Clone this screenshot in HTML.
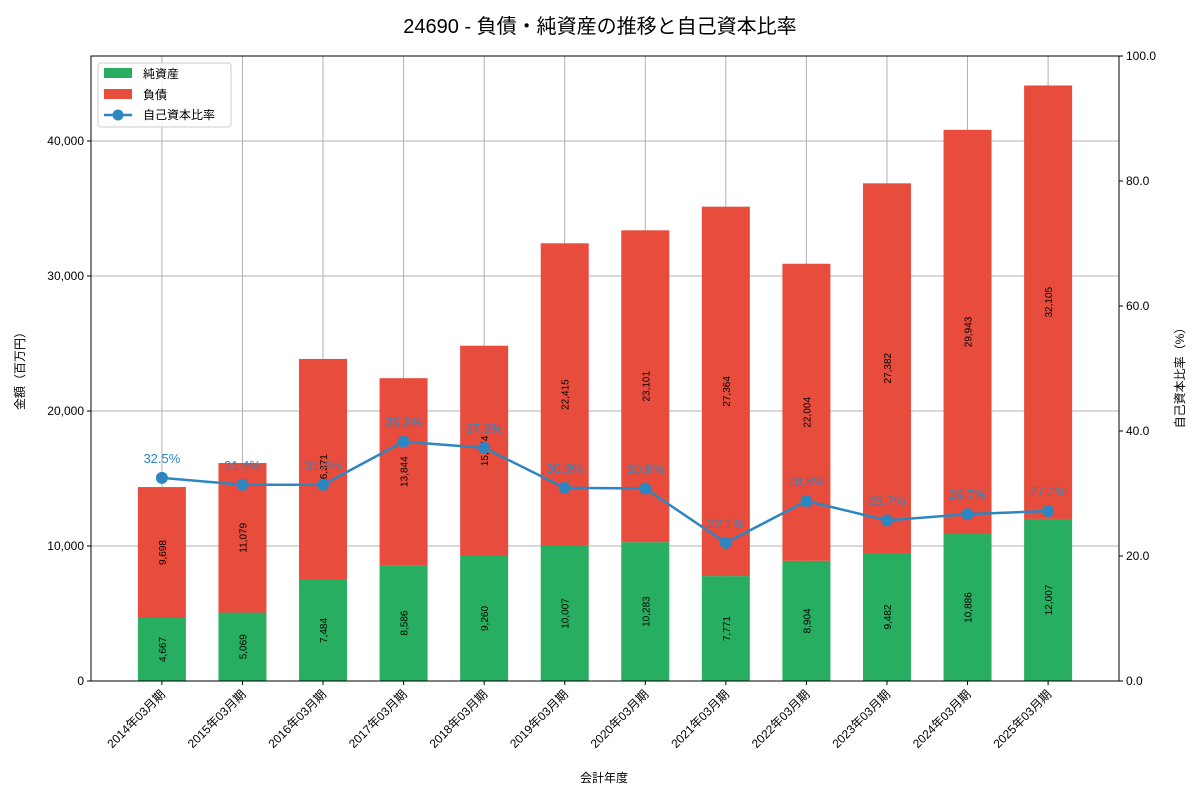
<!DOCTYPE html>
<html><head><meta charset="utf-8"><style>
body{margin:0;background:#fff;}
svg text{font-family:"Liberation Sans","Noto Sans CJK JP",sans-serif;}
</style></head><body>
<svg id="chart" width="1200" height="800" xmlns="http://www.w3.org/2000/svg">
<text x="600" y="33" text-anchor="middle" font-size="20" fill="#000">24690 - 負債・純資産の推移と自己資本比率</text>
<g id="grid"></g><g id="bars"></g><g id="line"></g><g id="axes"></g>
</svg>
<script>
const categories=["2014年03月期","2015年03月期","2016年03月期","2017年03月期","2018年03月期","2019年03月期","2020年03月期","2021年03月期","2022年03月期","2023年03月期","2024年03月期","2025年03月期"];
const netAssets=[4667,5069,7484,8586,9260,10007,10283,7771,8904,9482,10886,12007];
const liabilities=[9698,11079,16371,13844,15574,22415,23101,27364,22004,27382,29943,32105];
const ratio=[32.5,31.4,31.4,38.3,37.3,30.9,30.8,22.1,28.8,25.7,26.7,27.2];
const leftTicks=[0,10000,20000,30000,40000];
const rightTicks=[0,20,40,60,80,100];
const NS="http://www.w3.org/2000/svg";
const L=91,R=1119,T=56,B=681;
const xs=i=>L+(i+0.88)*(R-L)/12.76;
const yl=v=>B-v/46296*(B-T);
const yr=v=>B-v/100*(B-T);
const bw=48;
function mk(p,tag,a,txt){const e=document.createElementNS(NS,tag);for(const k in a)e.setAttribute(k,a[k]);if(txt!==undefined)e.textContent=txt;document.getElementById(p).appendChild(e);return e;}
const fmt=v=>v.toLocaleString('en-US');
// grid
leftTicks.forEach(v=>{const e=mk('grid','line',{x1:L,x2:R,y1:yl(v),y2:yl(v),stroke:'#b0b0b0','stroke-width':1});

});
categories.forEach((c,i)=>{const e=mk('grid','line',{x1:xs(i),x2:xs(i),y1:T,y2:B,stroke:'#b0b0b0','stroke-width':1});

});
// bars
categories.forEach((c,i)=>{
 const x=xs(i)-bw/2,n=netAssets[i],l=liabilities[i];
 const g=mk('bars','rect',{x:x,y:yl(n),width:bw,height:yl(0)-yl(n),fill:'#27ae60'});
 
 
 const r=mk('bars','rect',{x:x,y:yl(n+l),width:bw,height:yl(n)-yl(n+l),fill:'#e74c3c'});
 
 
 const cy1=(yl(0)+yl(n))/2, cy2=(yl(n)+yl(n+l))/2;
 const t1=mk('bars','text',{x:xs(i)+4,y:cy1,'font-size':10,'text-anchor':'middle',transform:`rotate(-90 ${xs(i)+4} ${cy1})`},fmt(n));
 
 
 const t2=mk('bars','text',{x:xs(i)+4,y:cy2,'font-size':10,'text-anchor':'middle',transform:`rotate(-90 ${xs(i)+4} ${cy2})`},fmt(l));
 
 
});
// line
const pts=ratio.map((v,i)=>xs(i)+','+yr(v)).join(' ');
const pl=mk('line','polyline',{points:pts,fill:'none',stroke:'#2e86c1','stroke-width':2.5});


ratio.forEach((v,i)=>{
 const c=mk('line','circle',{cx:xs(i),cy:yr(v),r:6,fill:'#2e86c1'});
 
 
 const t=mk('line','text',{x:xs(i),y:yr(v)-15,'font-size':13,fill:'#2e86c1','text-anchor':'middle'},v.toFixed(1)+'%');
 
 
});
// axes frame
const fr=mk('axes','rect',{x:L,y:T,width:R-L,height:B-T,fill:'none',stroke:'#000','stroke-width':1});


leftTicks.forEach(v=>{mk('axes','line',{x1:L-4,x2:L,y1:yl(v),y2:yl(v),stroke:'#000'});
 const t=mk('axes','text',{x:L-7,y:yl(v)+4,'font-size':12,'text-anchor':'end'},fmt(v));
 
 });
rightTicks.forEach(v=>{mk('axes','line',{x1:R,x2:R+4,y1:yr(v),y2:yr(v),stroke:'#000'});
 const t=mk('axes','text',{x:R+7,y:yr(v)+4,'font-size':12},v.toFixed(1));
 
 });
categories.forEach((c,i)=>{mk('axes','line',{x1:xs(i),x2:xs(i),y1:B,y2:B+4,stroke:'#000'});
 const x=xs(i)+4,y=B+14;
 const t=mk('axes','text',{x:x,y:y,'font-size':12,'text-anchor':'end',transform:`rotate(-45 ${x} ${y})`},c);
 
 });
let t=mk('axes','text',{x:604,y:782,'font-size':12,'text-anchor':'middle'},'会計年度');


t=mk('axes','text',{x:24,y:368,'font-size':12,'text-anchor':'middle',transform:'rotate(-90 24 368)'},'金額（百万円）');


t=mk('axes','text',{x:1184,y:375,'font-size':12,'text-anchor':'middle',transform:'rotate(-90 1184 375)'},'自己資本比率（%）');


// legend
const lg=mk('axes','rect',{x:98,y:63,width:133,height:64,fill:'#fff','fill-opacity':0.85,stroke:'#ccc',rx:3});


mk('axes','rect',{x:104,y:68,width:28,height:10,fill:'#27ae60'});
t=mk('axes','text',{x:143,y:78,'font-size':12},'純資産');


mk('axes','rect',{x:104,y:89,width:28,height:10,fill:'#e74c3c'});
t=mk('axes','text',{x:143,y:99,'font-size':12},'負債');


mk('axes','line',{x1:104,x2:132,y1:115,y2:115,stroke:'#2e86c1','stroke-width':2.5});
mk('axes','circle',{cx:118,cy:115,r:5.5,fill:'#2e86c1'});
t=mk('axes','text',{x:143,y:119,'font-size':12},'自己資本比率');


</script>
</body></html>
